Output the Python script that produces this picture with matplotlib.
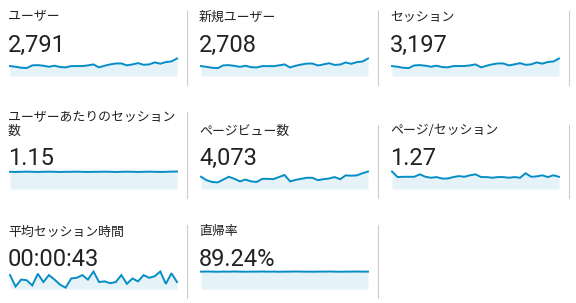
# Analytics summary cards with sparklines
import matplotlib
matplotlib.use("Agg")
import matplotlib.pyplot as plt
from matplotlib.lines import Line2D

W, H = 576, 303

# Card titles and headline values
titles = ["ユーザー", "新規ユーザー", "セッション",
          "ユーザーあたりのセッション\n数", "ページビュー数", "ページ/セッション",
          "平均セッション時間", "直帰率"]
values = ["2,791", "2,708", "3,197", "1.15", "4,073", "1.27", "00:00:43", "89.24%"]

# Daily series (31 days)
users = [84, 78, 70, 67, 90, 92, 87, 78, 87, 76, 73, 84, 84, 84, 90, 98,
         73, 87, 98, 106, 106, 90, 98, 109, 95, 98, 115, 104, 118, 123, 148]
new_users = [82, 76, 68, 65, 88, 90, 84, 76, 85, 73, 71, 82, 82, 81, 88, 96,
             71, 85, 95, 103, 103, 87, 96, 106, 92, 95, 112, 101, 115, 120, 145]
sessions = [96, 90, 80, 77, 103, 106, 100, 90, 100, 87, 84, 96, 97, 97, 103, 113,
            84, 100, 113, 122, 122, 103, 113, 125, 109, 113, 132, 120, 136, 141, 170]
sessions_per_user = [1.15, 1.14, 1.15, 1.16, 1.15, 1.14, 1.15, 1.16, 1.15, 1.14, 1.15,
                     1.15, 1.16, 1.15, 1.14, 1.15, 1.15, 1.16, 1.15, 1.14, 1.15, 1.16,
                     1.15, 1.14, 1.15, 1.16, 1.15, 1.14, 1.15, 1.16, 1.17]
pageviews = [152, 109, 87, 82, 117, 152, 126, 95, 117, 95, 87, 126, 126, 122, 148, 174,
             95, 113, 126, 139, 139, 109, 122, 130, 148, 122, 169, 165, 169, 195, 217]
pages_per_session = [1.79, 1.22, 1.25, 1.25, 1.25, 1.50, 1.25, 1.15, 1.22, 1.07, 1.07,
                     1.22, 1.32, 1.25, 1.40, 1.50, 1.22, 1.22, 1.15, 1.22, 1.22, 1.15,
                     1.22, 1.15, 1.61, 1.25, 1.29, 1.40, 1.22, 1.40, 1.25]
avg_duration = [62, 11, 42, 39, 16, 68, 31, 62, 42, 19, 6, 47, 50, 62, 42, 78,
                31, 34, 26, 31, 62, 23, 47, 34, 62, 50, 57, 78, 23, 70, 31]
bounce_rate = [89.1, 89.8, 89.2, 88.6, 89.3, 89.1, 89.9, 89.2, 88.7, 89.3, 89.2, 89.8,
               89.1, 89.3, 88.6, 89.2, 89.3, 89.9, 89.2, 89.1, 88.7, 89.3, 89.2, 89.8,
               89.1, 88.7, 89.3, 89.2, 89.9, 89.1, 89.2]

series = [users, new_users, sessions, sessions_per_user, pageviews,
          pages_per_session, avg_duration, bounce_rate]

line_color = "#058dc7"
fill_color = "#e5f3f9"
text_color = "#222222"
jp_font = ["Noto Sans CJK JP", "DejaVu Sans"]

col_x = [8, 199, 390]            # left edge of text
spark_x = [10, 201, 392]         # left edge of sparkline
divider_x = [187, 378, 569]
value_base = [52, 165, 266]      # baseline of big number
spark_bottom = [76, 189, 289]
title_center = [17, 131, 232]
card_top = [11, 125, 225]
card_bottom = [85, 198, 298]

fig = plt.figure(figsize=(W / 100, H / 100), dpi=100)
fig.patch.set_facecolor("white")

for i, (title, val, data) in enumerate(zip(titles, values, series)):
    r, c = divmod(i, 3)

    # title
    if "\n" in title:
        fig.text(col_x[c] / W, 1 - 124.5 / H, title, family=jp_font, fontsize=9.3,
                 color=text_color, va="center", ha="left", linespacing=1.05)
        top = 112
    else:
        fig.text(col_x[c] / W, 1 - title_center[r] / H, title, family=jp_font,
                 fontsize=9.3, color=text_color, va="center", ha="left")
        top = card_top[r]

    # big number
    fig.text(col_x[c] / W, 1 - value_base[r] / H, val, family="Roboto",
             fontsize=17, color=text_color, va="baseline", ha="left")

    # sparkline
    ax = fig.add_axes([spark_x[c] / W, 1 - spark_bottom[r] / H,
                       167 / W, 17.5 / H])
    x = list(range(len(data)))
    ax.fill_between(x, 0, data, color=fill_color, lw=0)
    ax.plot(x, data, color=line_color, lw=1.4, clip_on=False,
            solid_joinstyle="miter")
    ax.set_xlim(0, len(data) - 1)
    ax.set_ylim(0, max(data))
    ax.axis("off")

    # divider on the right side of the card
    fig.add_artist(Line2D([divider_x[c] / W, divider_x[c] / W],
                          [1 - top / H, 1 - card_bottom[r] / H],
                          color="#cccccc", lw=0.8))

fig.savefig("out.png", dpi=100)
